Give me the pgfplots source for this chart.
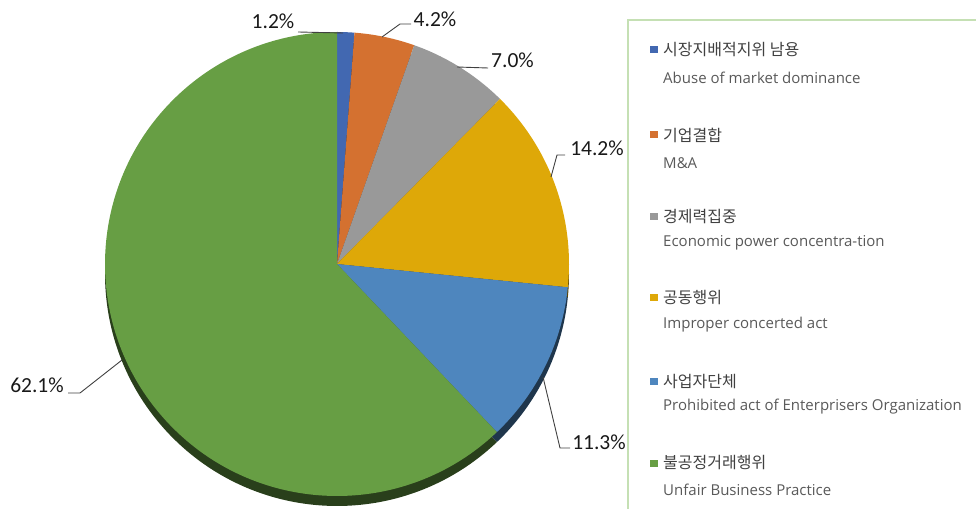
\documentclass[border=0pt]{standalone}
\usepackage{pgfplots}
\pgfplotsset{compat=1.18}
\usepackage{pgfplotstable}
\usepackage{fontspec}
\setmainfont{Carlito}
\newfontfamily\kr{Noto Sans CJK KR}
\newfontfamily\en{Open Sans}
\definecolor{sA}{RGB}{66,104,177}
\definecolor{sB}{RGB}{212,113,48}
\definecolor{sC}{RGB}{153,153,153}
\definecolor{sD}{RGB}{222,168,8}
\definecolor{sE}{RGB}{78,134,190}
\definecolor{sF}{RGB}{103,158,68}
\definecolor{lbox}{RGB}{197,224,180}
\definecolor{krtxt}{RGB}{64,64,64}
\definecolor{entxt}{RGB}{89,89,89}
\definecolor{lead}{RGB}{64,64,64}
\pgfplotstableread{
v c
1.2 sA
4.2 sB
7.0 sC
14.2 sD
11.3 sE
62.1 sF
}\piedata
\begin{document}
\begin{tikzpicture}
\begin{axis}[width=976bp,height=509bp,scale only axis,
  xmin=0,xmax=976,ymin=0,ymax=509,hide axis,clip=false]
% shadows
\def\cum{0}
\pgfplotsforeachungrouped \i in {0,...,5}{%
  \pgfplotstablegetelem{\i}{v}\of\piedata \let\v\pgfplotsretval
  \pgfplotstablegetelem{\i}{c}\of\piedata \let\c\pgfplotsretval
  \pgfmathsetmacro\a{90-3.6*\cum}%
  \pgfmathsetmacro\cum{\cum+\v}%
  \pgfmathsetmacro\b{90-3.6*\cum}%
  \edef\temp{\noexpand\fill[\c!40!black] (axis cs:337,235) -- ++(\a:232bp) arc[start angle=\a, end angle=\b, radius=232bp] -- cycle;}\temp
}
% tops
\def\cum{0}
\pgfplotsforeachungrouped \i in {0,...,5}{%
  \pgfplotstablegetelem{\i}{v}\of\piedata \let\v\pgfplotsretval
  \pgfplotstablegetelem{\i}{c}\of\piedata \let\c\pgfplotsretval
  \pgfmathsetmacro\a{90-3.6*\cum}%
  \pgfmathsetmacro\cum{\cum+\v}%
  \pgfmathsetmacro\b{90-3.6*\cum}%
  \edef\temp{\noexpand\fill[\c] (axis cs:337,245) -- ++(\a:232bp) arc[start angle=\a, end angle=\b, radius=232bp] -- cycle;}\temp
}
% leaders
\draw[lead,line width=0.9bp] (axis cs:298,477) -- (axis cs:343,476);
\draw[lead,line width=0.9bp] (axis cs:411,485) -- (axis cs:400,485) -- (axis cs:382,472);
\draw[lead,line width=0.9bp] (axis cs:488,441) -- (axis cs:457,442);
\draw[lead,line width=0.9bp] (axis cs:565,354) -- (axis cs:557,354) -- (axis cs:551,332);
\draw[lead,line width=0.9bp] (axis cs:570,61) -- (axis cs:560,61) -- (axis cs:543,132);
\draw[lead,line width=0.9bp] (axis cs:68,116) -- (axis cs:80,116) -- (axis cs:122,149);
% labels
\begin{scope}[every node/.style={inner sep=0pt,text=black!90,font=\fontsize{21.5bp}{24bp}\selectfont}]
\node at (axis cs:273,487.5) {1.2\%};
\node at (axis cs:435,489.5) {4.2\%};
\node at (axis cs:512.5,448.5) {7.0\%};
\node at (axis cs:597,361) {14.2\%};
\node at (axis cs:599,67) {11.3\%};
\node at (axis cs:37,124) {62.1\%};
\end{scope}
% legend
\draw[lbox,line width=2bp] (axis cs:1010,489) -- (axis cs:628,489) -- (axis cs:628,-20);
\begin{scope}[every node/.style={inner sep=0pt,anchor=west}]
\foreach \y/\c in {459/sA,374/sB,292/sC,211/sD,127/sE,46/sF}{
  \edef\temp{\noexpand\fill[\c] (axis cs:650,\y-3.5) rectangle (axis cs:657.5,\y+3.5);}\temp
}
\node[text=krtxt,font=\kr\fontsize{16bp}{18bp}\selectfont] at (axis cs:663,459) {시장지배적지위 남용};
\node[text=krtxt,font=\kr\fontsize{16bp}{18bp}\selectfont] at (axis cs:663,374) {기업결합};
\node[text=krtxt,font=\kr\fontsize{16bp}{18bp}\selectfont] at (axis cs:663,292) {경제력집중};
\node[text=krtxt,font=\kr\fontsize{16bp}{18bp}\selectfont] at (axis cs:663,211) {공동행위};
\node[text=krtxt,font=\kr\fontsize{16bp}{18bp}\selectfont] at (axis cs:663,127) {사업자단체};
\node[text=krtxt,font=\kr\fontsize{16bp}{18bp}\selectfont] at (axis cs:663,46) {불공정거래행위};
\node[text=entxt,font=\en\fontsize{15bp}{17bp}\selectfont] at (axis cs:663,431) {Abuse of market dominance};
\node[text=entxt,font=\en\fontsize{15bp}{17bp}\selectfont] at (axis cs:663,346) {M\&A};
\node[text=entxt,font=\en\fontsize{15bp}{17bp}\selectfont] at (axis cs:663,266) {Economic power concentra-tion};
\node[text=entxt,font=\en\fontsize{15bp}{17bp}\selectfont] at (axis cs:663,184) {Improper concerted act};
\node[text=entxt,font=\en\fontsize{15bp}{17bp}\selectfont] at (axis cs:663,102) {Prohibited act of Enterprisers Organization};
\node[text=entxt,font=\en\fontsize{15bp}{17bp}\selectfont] at (axis cs:663,19) {Unfair Business Practice};
\end{scope}
\end{axis}
\pgfresetboundingbox
\useasboundingbox (0,0) rectangle (976bp,509bp);
\end{tikzpicture}
\end{document}
